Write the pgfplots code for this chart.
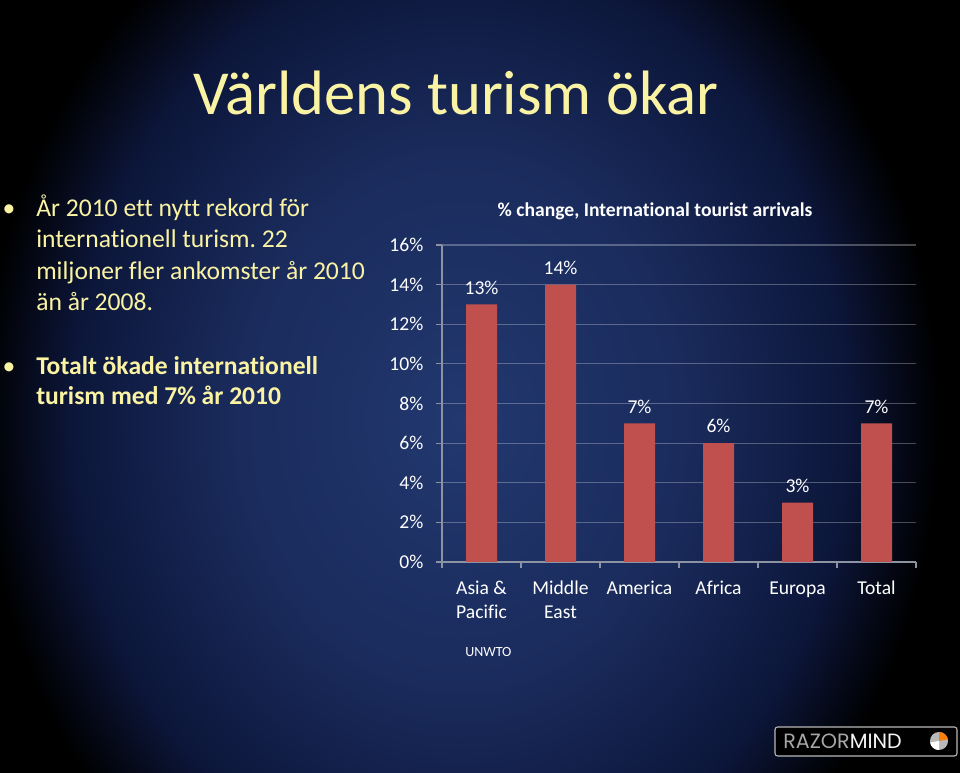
\documentclass[border=0pt]{standalone}
\usepackage{pgfplots}
\pgfplotsset{compat=1.18}
\usepackage{fontspec}
\setmainfont{Carlito}[Ligatures=NoCommon]
\newfontfamily\logofont{Poppins}
\frenchspacing
\definecolor{titleyel}{HTML}{FAF3A3}
\definecolor{barred}{HTML}{C0504D}
\definecolor{axgrey}{HTML}{8C93A3}
\definecolor{bgA}{HTML}{22386F}
\definecolor{bgB}{HTML}{1A2B5C}
\definecolor{bgC}{HTML}{0C163A}
\pgfdeclareradialshading{slidebg}{\pgfpoint{0bp}{0bp}}{color(0bp)=(bgA); color(11bp)=(bgB); color(19bp)=(bgC); color(23.5bp)=(black); color(50bp)=(black)}
\newcommand{\chartfont}{\fontsize{14.7}{18}\selectfont}
\newcommand{\xl}[1]{\parbox[t]{62pt}{\centering\strut #1\strut}}
\begin{document}
\begin{tikzpicture}[x=0.75pt,y=0.75pt]
\useasboundingbox (0,0) rectangle (960,773);
\fill[black] (0,0) rectangle (960,773);
\begin{scope}
\clip (0,0) rectangle (960,773);
\shade[shading=slidebg] (460,353) ellipse [x radius=510, y radius=610];
\end{scope}

% title
\node[anchor=base west, inner sep=0, text=titleyel, font=\fontsize{47}{50}\selectfont] at (193,658) {Världens turism ökar};

% bullets
\begin{scope}[every node/.style={anchor=base west, inner sep=0, text=titleyel, font=\fontsize{19.2}{23}\selectfont}]
\node[anchor=base] at (9,556) {•};
\node at (36,556) {År 2010 ett nytt rekord för};
\node at (36,525) {internationell turism. 22};
\node at (36,493.5) {miljoner fler ankomster år 2010};
\node at (36,462) {än år 2008.};
\node[anchor=base] at (9,398) {•};
\node[font=\bfseries\fontsize{19.2}{23}\selectfont] at (36,398) {Totalt ökade internationell};
\node[font=\bfseries\fontsize{19.2}{23}\selectfont] at (36,368) {turism med 7\% år 2010};
\end{scope}

\begin{axis}[
  at={(331.5pt,158.25pt)}, anchor=south west,
  scale only axis, width=355.5pt, height=237.75pt,
  xmin=-0.5, xmax=5.5, ymin=0, ymax=16,
  ybar, bar width=23.25pt,
  axis x line*=bottom, axis y line*=left,
  every outer x axis line/.append style={-, axgrey, line width=0.8pt},
  every outer y axis line/.append style={-, axgrey, line width=0.8pt},
  tick align=outside, major tick length=4.5pt,
  tick style={axgrey, line width=0.8pt},
  ytick={0,2,...,16},
  yticklabel={\pgfmathprintnumber{\tick}\%},
  yticklabel style={xshift=-6pt},
  ymajorgrids, major grid style={white, opacity=0.28, line width=0.8pt},
  xtick={-0.5,0.5,1.5,2.5,3.5,4.5,5.5},
  xticklabels={{\phantom{0}},{\phantom{0}},{\phantom{0}},{\phantom{0}},{\phantom{0}},{\phantom{0}},{\phantom{0}}},
  extra x ticks={0,1,2,3,4,5},
  extra x tick labels={\xl{Asia \&\\Pacific}, \xl{Middle\\East}, \xl{America}, \xl{Africa}, \xl{Europa}, \xl{Total}},
  extra x tick style={major tick length=0pt, grid=none},
  every tick label/.append style={font=\chartfont, text=white},
  xticklabel style={anchor=north, yshift=-8pt},
  /pgf/number format/assume math mode=true,
  clip=false,
]
\addplot[fill=barred, draw=none,
  nodes near coords={\pgfmathprintnumber{\pgfplotspointmeta}\%},
  nodes near coords style={font=\chartfont, text=white, yshift=4pt}]
  coordinates {(0,13) (1,14) (2,7) (3,6) (4,3) (5,7)};
\end{axis}

\node[font=\bfseries\chartfont, text=white] at (655,562) {\% change, International tourist arrivals};
\node[anchor=base west, inner sep=0, font=\fontsize{10.5}{12}\selectfont, text=white] at (465,116) {UNWTO};

% logo
\draw[fill=black, draw=gray!55, line width=0.8pt, rounded corners=2pt] (775,17) rectangle (957,46);
\node[anchor=west, inner sep=0, font=\logofont\fontsize{15.5}{16}\selectfont] at (783,31.5) {\textcolor{gray!70}{RAZOR}\textcolor{white!92!gray}{MIND}};
\fill[gray!55] (939,32) circle (9);
\fill[orange!85!brown] (939,32) -- (939,41) arc (90:10:9) -- cycle;
\fill[white] (939,32) -- (939,23) arc (270:190:9) -- cycle;
\end{tikzpicture}
\end{document}
